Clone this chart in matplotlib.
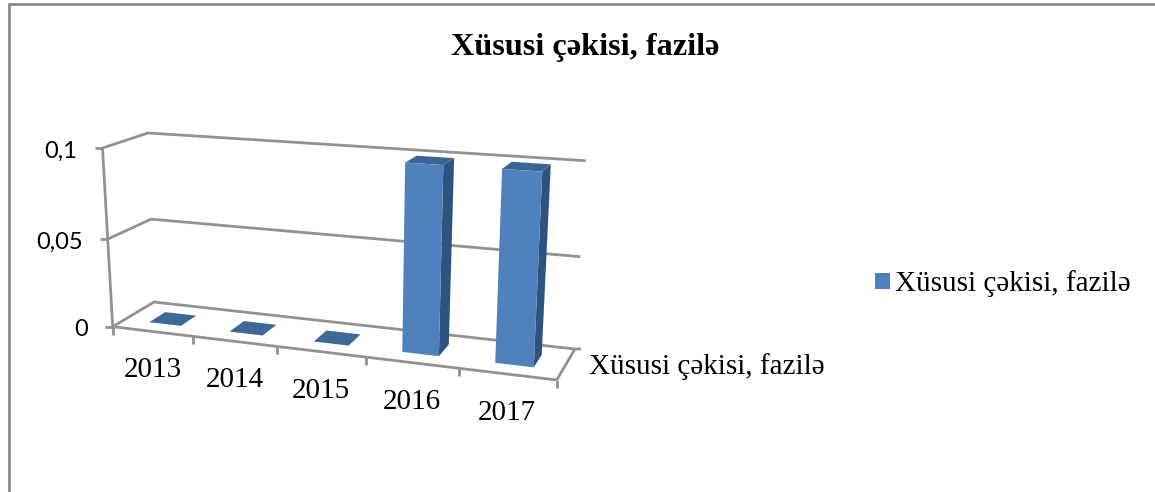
import matplotlib
matplotlib.use("Agg")
import matplotlib.pyplot as plt
from matplotlib.patches import Polygon, Patch

# ---- data ----
years = ["2013", "2014", "2015", "2016", "2017"]
values = [0, 0, 0, 0.1, 0.1]
y_ticks = [0, 0.05, 0.1]
y_tick_labels = ["0", "0,05", "0,1"]
series_name = "Xüsusi çəkisi, fazilə"
title = "Xüsusi çəkisi, fazilə"

# ---- style / geometry of the 3D box (pixel corners) ----
Y_MAX = 0.1
PERSP = 1.13
PERSP_Y = 1.04
FL0, FR0, BL0, BR0 = (112.7, 326.7), (556.7, 380.0), (154.0, 302.0), (575.0, 349.0)
FL1, FR1, BL1, BR1 = (102.5, 148.0), (566.0, 179.0), (148.0, 133.0), (585.7, 160.7)
GRID = "#929292"
FRONT, TOP, SIDE, FLAT = "#4F81BD", "#3B6596", "#2F5381", "#3E6896"
BORDER = "#868686"
SERIF = "Liberation Serif"
SANS = "Lato"


def lerp(a, b, t):
    return (a[0] + (b[0] - a[0]) * t, a[1] + (b[1] - a[1]) * t)


def project(i, v, z):
    """category position i, value v, depth z (0 front, 1 back) -> pixels."""
    t = i / len(years)
    s = t / (t + PERSP * (1 - t))
    r = v / Y_MAX
    h = r / (r + PERSP_Y * (1 - r))
    front = lerp(lerp(FL0, FR0, s), lerp(FL1, FR1, s), h)
    back = lerp(lerp(BL0, BR0, s), lerp(BL1, BR1, s), h)
    return lerp(front, back, z)


fig = plt.figure(figsize=(11.55, 4.92), dpi=100, facecolor="white")
ax = fig.add_axes([0, 0, 1, 1])
ax.set_xlim(0, 1155)
ax.set_ylim(492, 0)
ax.axis("off")

# chart frame
ax.plot([8.5, 8.5, 1155], [492, 4, 4], color=BORDER, lw=1.9, solid_capstyle="butt",
        solid_joinstyle="miter", zorder=1)

n = len(years)


def gline(pts, z=2):
    ax.plot([p[0] for p in pts], [p[1] for p in pts], color=GRID, lw=2.0,
            solid_capstyle="butt", solid_joinstyle="miter", zorder=z)


# walls, gridlines and y axis
for v, lab in zip(y_ticks, y_tick_labels):
    a, b, c = project(0, v, 0), project(0, v, 1), project(n, v, 1)
    gline([a, b, c])
    gline([(a[0] - 8, a[1]), a])
    ax.text(a[0] - 25, a[1] + 3, lab, family=SANS, fontsize=17, ha="right", va="center")
gline([project(0, 0, 0), project(0, Y_MAX, 0)])

# floor
gline([project(n, 0, 0), project(n, 0, 1), (project(n, 0, 1)[0] + 6, project(n, 0, 1)[1])])
gline([project(0, 0, 0), project(n, 0, 0)])

# x ticks and category labels
for i in range(n + 1):
    p = project(i, 0, 0)
    gline([p, (p[0], p[1] + 8)])
for i, lab in enumerate(years):
    p = project(i + 0.5, 0, 0)
    ax.text(p[0], p[1] + 39, lab, family=SERIF, fontsize=21, ha="center", va="center")

# depth axis label
p = project(n, 0, 0.5)
ax.text(p[0] + 23, p[1] + 2.5, series_name, family=SERIF, fontsize=21, ha="left", va="center")

# bars
B0, B1, Z0, Z1 = 0.31, 0.71, 0.3, 0.7
for i, v in enumerate(values):
    x0, x1 = i + B0, i + B1
    if v == 0:
        pts = [project(x0, 0, Z0), project(x1, 0, Z0), project(x1, 0, Z1), project(x0, 0, Z1)]
        ax.add_patch(Polygon(pts, closed=True, fc=FLAT, ec="none", zorder=4))
        continue
    ax.add_patch(Polygon([project(x1, 0, Z0), project(x1, 0, Z1), project(x1, v, Z1), project(x1, v, Z0)],
                         closed=True, fc=SIDE, ec="none", zorder=4))
    ax.add_patch(Polygon([project(x0, v, Z0), project(x1, v, Z0), project(x1, v, Z1), project(x0, v, Z1)],
                         closed=True, fc=TOP, ec="none", zorder=4))
    ax.add_patch(Polygon([project(x0, 0, Z0), project(x1, 0, Z0), project(x1, v, Z0), project(x0, v, Z0)],
                         closed=True, fc=FRONT, ec="none", zorder=5))

# title
ax.text(585, 47.5, title, family=SERIF, fontsize=23.2, fontweight="bold", ha="center", va="center")

# legend
handle = Patch(facecolor=FRONT, edgecolor="none", label=series_name)
leg = ax.legend(handles=[handle], loc="center left", bbox_to_anchor=(875 / 1155, 1 - 284 / 492),
                frameon=False, borderpad=0, borderaxespad=0, handlelength=0.5, handleheight=0.5,
                handletextpad=0.2, prop={"family": SERIF, "size": 21})

fig.savefig("out.png", dpi=100, facecolor="white")
